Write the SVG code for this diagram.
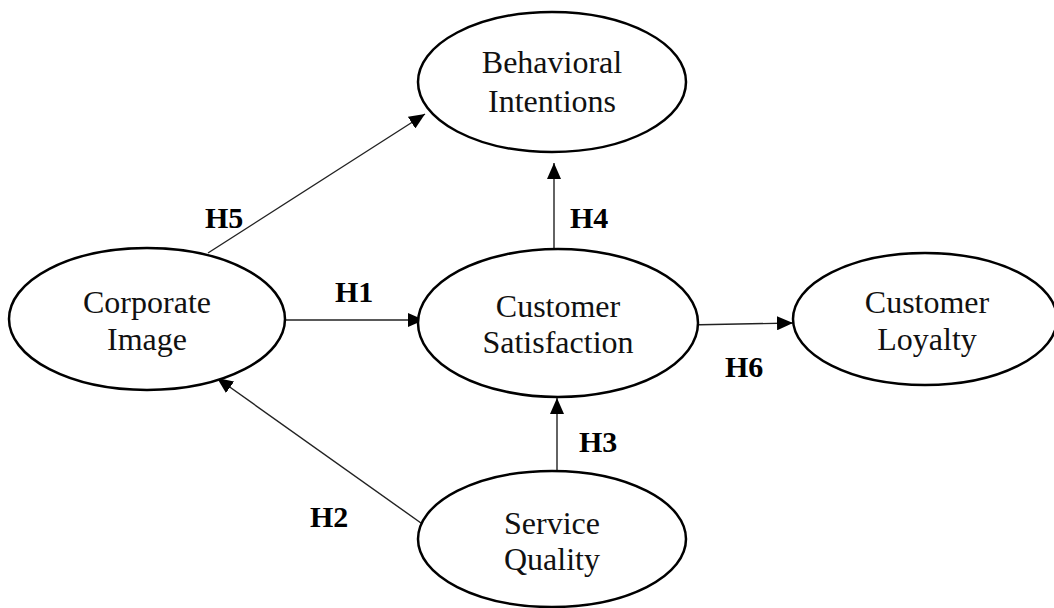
<svg xmlns="http://www.w3.org/2000/svg" width="1054" height="608" viewBox="0 0 1054 608">
<style>
.node ellipse{fill:#fff;stroke:#000;stroke-width:2.5}
.node text{font-family:"Liberation Serif","Times New Roman",serif;font-size:32px;fill:#111;text-anchor:middle}
.edge{stroke:#222;stroke-width:1.4;fill:none;marker-end:url(#ah)}
.lbl{font-family:"Liberation Serif","Times New Roman",serif;font-size:30px;font-weight:bold;fill:#000}
</style>
<defs>
<marker id="ah" markerUnits="userSpaceOnUse" markerWidth="16" markerHeight="14" refX="16" refY="7" orient="auto">
<path d="M0,0 L16,7 L0,14 z" fill="#000"/>
</marker>
</defs>
<rect width="1054" height="608" fill="#fff"/>
<g id="connectors">
<line class="edge" x1="208" y1="253" x2="425" y2="114"/>
<line class="edge" x1="554" y1="249" x2="554" y2="163"/>
<line class="edge" x1="285" y1="320" x2="424" y2="320"/>
<line class="edge" x1="687" y1="325" x2="793" y2="323"/>
<line class="edge" x1="557" y1="471" x2="557" y2="398"/>
<line class="edge" x1="428" y1="528" x2="217" y2="378"/>
</g>
<g id="labels">
<text class="lbl" x="205" y="228">H5</text>
<text class="lbl" x="570" y="228">H4</text>
<text class="lbl" x="335" y="302">H1</text>
<text class="lbl" x="725" y="377">H6</text>
<text class="lbl" x="579" y="452">H3</text>
<text class="lbl" x="310" y="527">H2</text>
</g>
<g id="behavioral" class="node">
<ellipse cx="552" cy="82" rx="134" ry="70"/>
<text x="552" y="73">Behavioral</text>
<text x="552" y="112">Intentions</text>
</g>
<g id="corporate" class="node">
<ellipse cx="147" cy="319" rx="138" ry="71"/>
<text x="147" y="313">Corporate</text>
<text x="147" y="350">Image</text>
</g>
<g id="satisfaction" class="node">
<ellipse cx="558" cy="323" rx="140" ry="74"/>
<text x="558" y="317">Customer</text>
<text x="558" y="353">Satisfaction</text>
</g>
<g id="loyalty" class="node">
<ellipse cx="925" cy="319" rx="132" ry="66"/>
<text x="927" y="313">Customer</text>
<text x="927" y="350">Loyalty</text>
</g>
<g id="service" class="node">
<ellipse cx="552" cy="539" rx="134" ry="68"/>
<text x="552" y="534">Service</text>
<text x="552" y="570">Quality</text>
</g>
</svg>
